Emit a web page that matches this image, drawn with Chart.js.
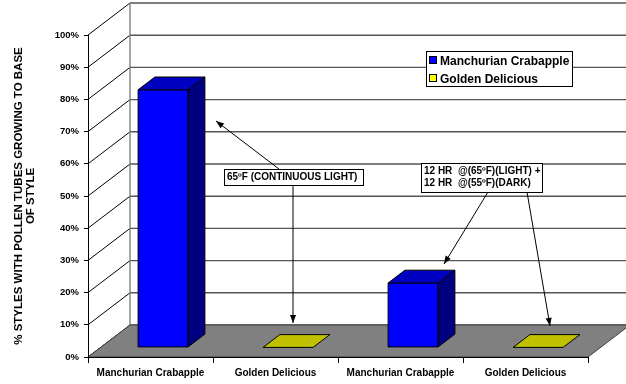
<!DOCTYPE html>
<html>
<head>
<meta charset="utf-8">
<title>Pollenschläuche</title>
<script src="https://cdn.jsdelivr.net/npm/chart.js@4"></script>
<style>
    body { margin: 0; background: #ffffff; }
    #chart-box { width: 626px; height: 384px; }
</style>
</head>
<body>
<div id="chart-box"><canvas id="chart" width="626" height="384"></canvas></div>
<script>
// Kategorien der x-Achse
const categories = ['Manchurian Crabapple', 'Golden Delicious', 'Manchurian Crabapple', 'Golden Delicious'];

// Reihen (Prozent), null = keine Säule in dieser Kategorie
const seriesNames = ['Manchurian Crabapple', 'Golden Delicious'];
const crabappleValues = [80, null, 20, null];
const goldenValues = [null, 0, null, 0];

// Teilstriche der y-Achse
const yTickValues = [0, 10, 20, 30, 40, 50, 60, 70, 80, 90, 100];

// Achsentitel und Notizen
const yTitle = ['% STYLES WITH POLLEN TUBES GROWING TO BASE', 'OF STYLE'];
const noteLight = ['65ºF (CONTINUOUS LIGHT)'];
const noteCycle = ['12 HR  @(65ºF)(LIGHT) +', '12 HR  @(55ºF)(DARK)'];

const FONT = '"Liberation Sans", Arial, sans-serif';

// 3D-Tiefe des Diagramms (Pixel)
const DEPTH_X = 42;
const DEPTH_Y = -32;
const BAR_FRONT = 0.3;
const BAR_DEPTH = 0.4;

/**
 * Zeichnet eine einfache Linie
 */
function drawLine(ctx, x1, y1, x2, y2, color, width) {
    ctx.beginPath();
    ctx.moveTo(x1, y1);
    ctx.lineTo(x2, y2);
    ctx.strokeStyle = color;
    ctx.lineWidth = width;
    ctx.stroke();
}

/**
 * Zeichnet ein gefülltes Polygon mit Rand
 */
function drawPolygon(ctx, points, fill, stroke) {
    ctx.beginPath();
    ctx.moveTo(points[0][0], points[0][1]);
    points.slice(1).forEach(p => ctx.lineTo(p[0], p[1]));
    ctx.closePath();
    ctx.fillStyle = fill;
    ctx.fill();
    ctx.strokeStyle = stroke;
    ctx.lineWidth = 1;
    ctx.stroke();
}

/**
 * Zeichnet einen Pfeil mit gefüllter Spitze am Endpunkt
 */
function drawArrow(ctx, x1, y1, x2, y2) {
    drawLine(ctx, x1, y1, x2, y2, '#000000', 1);
    const ang = Math.atan2(y2 - y1, x2 - x1);
    const len = 8;
    const half = 3;
    const cos = Math.cos(ang);
    const sin = Math.sin(ang);
    ctx.beginPath();
    ctx.moveTo(x2, y2);
    ctx.lineTo(x2 - len * cos + half * sin, y2 - len * sin - half * cos);
    ctx.lineTo(x2 - len * cos - half * sin, y2 - len * sin + half * cos);
    ctx.closePath();
    ctx.fillStyle = '#000000';
    ctx.fill();
}

/**
 * Zeichnet eine Notiz im Kasten
 */
function drawNote(ctx, lines, x, y, w, h) {
    ctx.fillStyle = '#ffffff';
    ctx.fillRect(x, y, w, h);
    ctx.strokeStyle = '#000000';
    ctx.lineWidth = 1;
    ctx.strokeRect(x + 0.5, y + 0.5, w, h);
    ctx.fillStyle = '#000000';
    ctx.font = 'bold 10px ' + FONT;
    ctx.textAlign = 'left';
    ctx.textBaseline = 'middle';
    lines.forEach((text, i) => {
        ctx.fillText(text, x + 3, y + 8.5 + i * 12);
    });
}

// Wände und Boden vor den Achsen
const wallPlugin = {
    id: 'walls',
    beforeDraw(chart) {
        const { ctx, chartArea: area } = chart;
        const yScale = chart.scales.y;
        ctx.save();
        ctx.fillStyle = '#ffffff';
        ctx.fillRect(0, 0, chart.width, chart.height);

        yScale.ticks.forEach(t => {
            const y = yScale.getPixelForValue(t.value);
            drawLine(ctx, area.left, y, area.left + DEPTH_X, y + DEPTH_Y, '#000000', 1);
            drawLine(ctx, area.left + DEPTH_X, y + DEPTH_Y, area.right + DEPTH_X, y + DEPTH_Y, '#555555', 1.4);
        });

        const y0 = yScale.getPixelForValue(0);
        const yTop = yScale.getPixelForValue(100);
        drawLine(ctx, area.left + DEPTH_X, yTop + DEPTH_Y, area.left + DEPTH_X, y0 + DEPTH_Y, '#808080', 1.4);

        // Boden
        drawPolygon(ctx, [
            [area.left, y0],
            [area.right, y0],
            [area.right + DEPTH_X, y0 + DEPTH_Y],
            [area.left + DEPTH_X, y0 + DEPTH_Y]
        ], '#808080', '#404040');
        ctx.restore();
    }
};

// Säulen als 3D-Quader
const barPlugin = {
    id: 'bars3d',
    beforeDatasetsDraw(chart) {
        const ctx = chart.ctx;
        ctx.save();
        chart.data.datasets.forEach((ds, i) => {
            const meta = chart.getDatasetMeta(i);
            meta.data.forEach((bar, j) => {
                if (ds.data[j] === null) {
                    return;
                }
                const { x, y, base, width } = bar.getProps(['x', 'y', 'base', 'width'], true);
                const ox = BAR_FRONT * DEPTH_X;
                const oy = BAR_FRONT * DEPTH_Y;
                const dx = BAR_DEPTH * DEPTH_X;
                const dy = BAR_DEPTH * DEPTH_Y;
                const l = x - width / 2 + ox;
                const r = x + width / 2 + ox;
                const t = y + oy;
                const b = base + oy;

                if (b - t > 0.5) {
                    drawPolygon(ctx, [[l, t], [r, t], [r, b], [l, b]], ds.backgroundColor, '#000000');
                    drawPolygon(ctx, [[r, b], [r, t], [r + dx, t + dy], [r + dx, b + dy]], ds.sideColor, '#000000');
                }
                drawPolygon(ctx, [[l, t], [r, t], [r + dx, t + dy], [l + dx, t + dy]], ds.topColor, '#000000');
            });
        });
        ctx.restore();
        // Standard-Säulen nicht zeichnen
        return false;
    }
};

// Legende und Notizen ganz oben
const overlayPlugin = {
    id: 'overlay',
    afterDraw(chart) {
        const ctx = chart.ctx;
        ctx.save();

        // Legende
        ctx.fillStyle = '#ffffff';
        ctx.fillRect(426, 51, 146, 35);
        ctx.strokeStyle = '#000000';
        ctx.lineWidth = 1;
        ctx.strokeRect(426.5, 51.5, 146, 35);
        ctx.font = 'bold 12px ' + FONT;
        ctx.textAlign = 'left';
        ctx.textBaseline = 'middle';
        chart.data.datasets.forEach((ds, i) => {
            const y = 60 + i * 18;
            ctx.fillStyle = ds.backgroundColor;
            ctx.fillRect(429, y - 4, 8, 8);
            ctx.strokeStyle = '#000000';
            ctx.strokeRect(429.5, y - 3.5, 7, 7);
            ctx.fillStyle = '#000000';
            ctx.fillText(ds.label, 440, y + 2);
        });

        // Pfeile
        drawArrow(ctx, 279, 169, 216, 121);
        drawArrow(ctx, 293, 185, 293, 323);
        drawArrow(ctx, 488, 192, 444, 264);
        drawArrow(ctx, 527, 192, 550, 326);

        drawNote(ctx, noteLight, 224, 169, 139, 16);
        drawNote(ctx, noteCycle, 421, 163, 121, 29);
        ctx.restore();
    }
};

const ctx = document.getElementById('chart').getContext('2d');

new Chart(ctx, {
    type: 'bar',
    data: {
        labels: categories,
        datasets: [{
            label: seriesNames[0],
            data: crabappleValues,
            backgroundColor: '#0000ff',
            sideColor: '#000080',
            topColor: '#0000c0'
        }, {
            label: seriesNames[1],
            data: goldenValues,
            backgroundColor: '#ffff00',
            sideColor: '#808000',
            topColor: '#c0c000'
        }]
    },
    options: {
        responsive: false,
        animation: false,
        layout: {
            padding: { left: 0, right: 38, top: 35, bottom: 0 }
        },
        datasets: {
            bar: {
                grouped: false,
                barPercentage: 0.4,
                categoryPercentage: 1
            }
        },
        plugins: {
            legend: { display: false },
            tooltip: { enabled: false }
        },
        scales: {
            x: {
                afterFit: scale => { scale.height = 27; },
                grid: {
                    drawOnChartArea: false,
                    offset: true,
                    tickLength: 6,
                    color: '#000000'
                },
                border: { display: true, color: '#000000' },
                ticks: {
                    color: '#000000',
                    padding: 4,
                    maxRotation: 0,
                    font: { family: FONT, size: 10, weight: 'bold' }
                }
            },
            y: {
                min: 0,
                max: 100,
                afterFit: scale => { scale.width = 88; },
                afterBuildTicks: scale => {
                    scale.ticks = yTickValues.map(v => ({ value: v }));
                },
                grid: {
                    drawOnChartArea: false,
                    tickLength: 4,
                    color: '#000000'
                },
                border: { display: true, color: '#000000' },
                ticks: {
                    color: '#000000',
                    padding: 5,
                    callback: value => value + '%',
                    font: { family: FONT, size: 9.5, weight: 'bold' }
                },
                title: {
                    display: true,
                    text: yTitle,
                    color: '#000000',
                    padding: { top: 13, bottom: 0 },
                    font: { family: FONT, size: 11.5, weight: 'bold', lineHeight: 1.05 }
                }
            }
        }
    },
    plugins: [wallPlugin, barPlugin, overlayPlugin]
});
</script>
</body>
</html>
